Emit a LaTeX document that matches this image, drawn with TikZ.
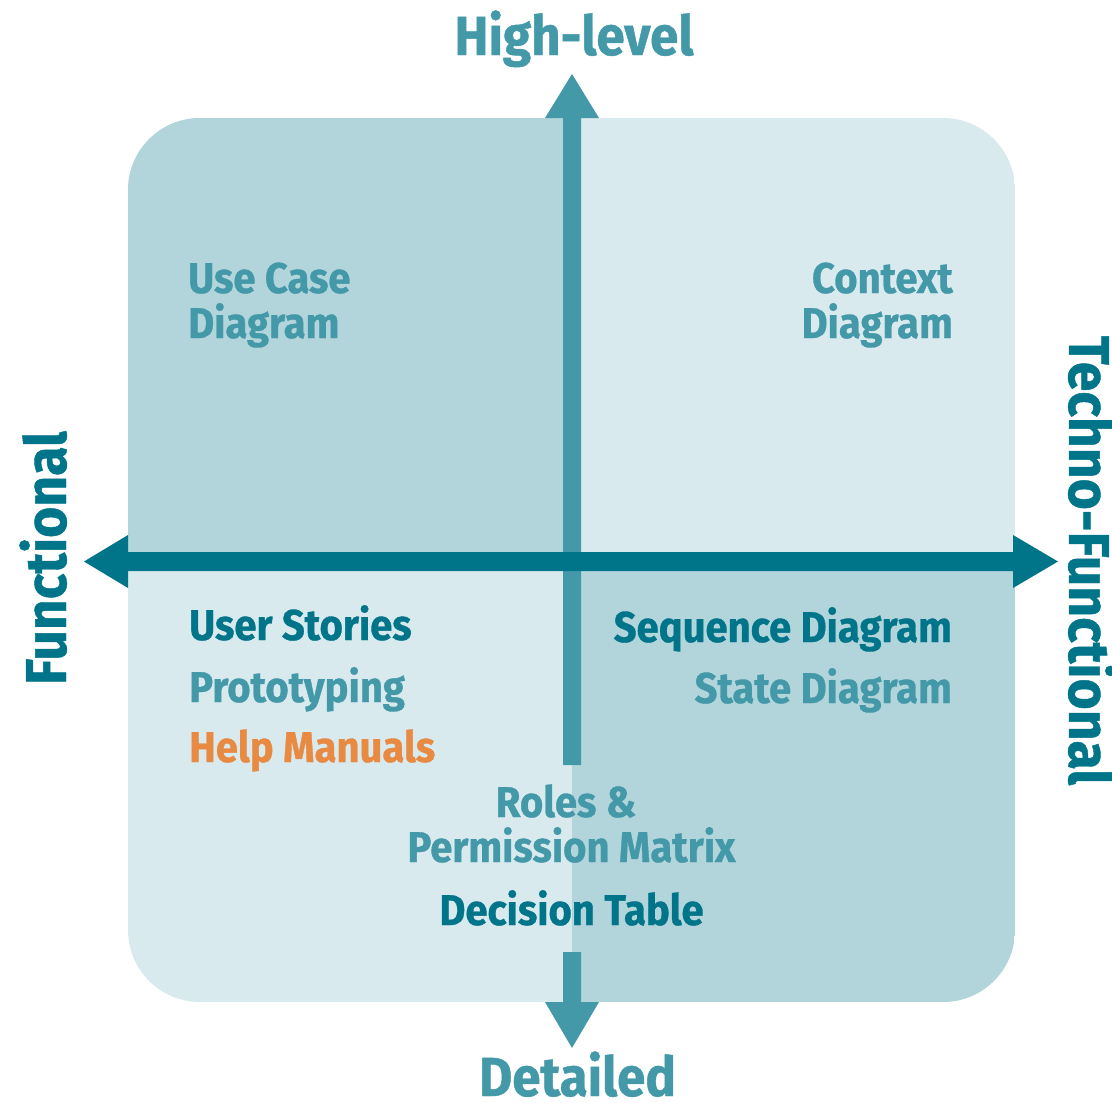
\documentclass[tikz,border=0pt]{standalone}
\usepackage{fontspec}
\setmainfont{Fira Sans}[FakeStretch=0.93,BoldFeatures={FakeBold=0.8}]
\definecolor{qdark}{HTML}{B2D5DC}
\definecolor{qlight}{HTML}{D9EAEF}
\definecolor{tealmid}{HTML}{4499A9}
\definecolor{tealdark}{HTML}{00758A}
\definecolor{orangeh}{HTML}{E88A42}
\tikzset{
  body/.style={inner sep=0pt,font=\bfseries\fontsize{43}{45}\selectfont},
  title/.style={inner sep=0pt,font=\bfseries\fontsize{57.5}{60}\selectfont},
  titlev/.style={inner sep=0pt,font=\bfseries\fontsize{55}{58}\selectfont},
}
\begin{document}
\begin{tikzpicture}[x=1pt,y=-1pt]
\useasboundingbox (0,0) rectangle (1112,1103);
% quadrants
\begin{scope}
\clip[rounded corners=72pt] (128,118) rectangle (1015,1002);
\fill[qlight] (128,118) rectangle (1015,1002);
\fill[qdark] (128,118) rectangle (572,561);
\fill[qdark] (572,561) rectangle (1015,1002);
\end{scope}
% vertical arrow (upper part)
\fill[tealmid] (563,765) -- (563,118) -- (545,118) -- (572,74) -- (599,118) -- (581,118) -- (581,765) -- cycle;
% vertical arrow (lower part)
\fill[tealmid] (563,952) -- (563,1002) -- (545,1002) -- (572,1048) -- (599,1002) -- (581,1002) -- (581,952) -- cycle;
% horizontal arrow
\fill[tealdark] (128,552) -- (128,535) -- (84,561.5) -- (128,588) -- (128,571) -- (1013,571) -- (1013,588) -- (1058,561.5) -- (1013,535) -- (1013,552) -- cycle;
% axis labels
\node[titlev,text=tealmid,anchor=base] (hl) at (574,55) {High-level};
\node[titlev,text=tealmid,anchor=base] (dt) at (577.5,1096) {Detailed};
\node[title,text=tealdark,anchor=base,rotate=90] (fn) at (66,558) {Functional};
\node[title,text=tealdark,anchor=base,rotate=-90] (tf) at (1069,560.5) {Techno-Functional};
% quadrant texts
\node[body,text=tealmid,anchor=base west] (uc1) at (188,293) {Use Case};
\node[body,text=tealmid,anchor=base west] (uc2) at (188,338) {Diagram};
\node[body,text=tealmid,anchor=base east] (cd1) at (953,293) {Context};
\node[body,text=tealmid,anchor=base east] (cd2) at (953,338) {Diagram};
\node[body,text=tealdark,anchor=base west] (us) at (189,640) {User Stories};
\node[body,text=tealmid,anchor=base west] (pt) at (189,702) {Prototyping};
\node[body,text=orangeh,anchor=base west] (hm) at (189,762) {Help Manuals};
\node[body,text=tealdark,anchor=base east] (sd) at (952,642) {Sequence Diagram};
\node[body,text=tealmid,anchor=base east] (st) at (952,703) {State Diagram};
\node[body,text=tealmid,anchor=base] (rp1) at (566,817) {Roles \&};
\node[body,text=tealmid,anchor=base] (rp2) at (571.5,862) {Permission Matrix};
\node[body,text=tealdark,anchor=base] (dtb) at (571.5,925) {Decision Table};
\end{tikzpicture}
\end{document}
